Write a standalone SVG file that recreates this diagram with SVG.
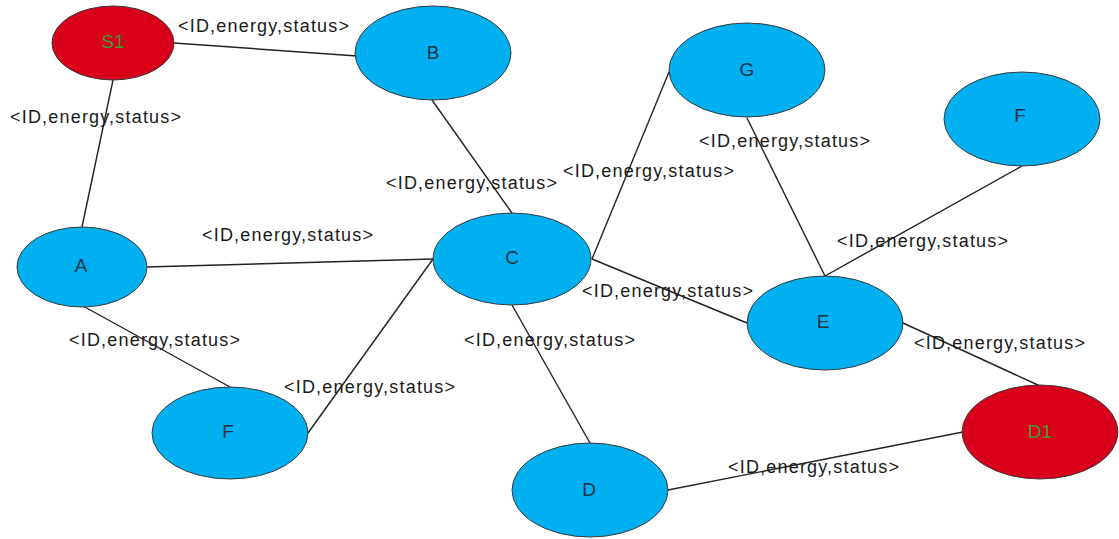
<svg xmlns="http://www.w3.org/2000/svg" width="1119" height="539" viewBox="0 0 1119 539">
  <style>
    .node { fill: #00b0f0; stroke: #3a3a3a; stroke-width: 1; }
    .end { fill: #d9001b; stroke: #3a3a3a; stroke-width: 1; }
    .edge { stroke: #222; stroke-width: 1.4; fill: none; }
    .name { font-family: "Liberation Sans", Arial, sans-serif; font-size: 19px; fill: #1f3347; text-anchor: middle; }
    .name-end { font-family: "Liberation Sans", Arial, sans-serif; font-size: 19px; fill: #3e9a34; text-anchor: middle; }
    .msg { font-family: "Liberation Sans", Arial, sans-serif; font-size: 18px; fill: #1a1a1a; }
  </style>
  <rect width="1119" height="539" fill="#ffffff"/>

  <!-- links between nodes -->
  <g id="connectors">
    <line class="edge" x1="174" y1="43" x2="357" y2="56"/>
    <line class="edge" x1="113" y1="80" x2="82" y2="227"/>
    <line class="edge" x1="432" y1="100" x2="512" y2="213"/>
    <line class="edge" x1="146" y1="267" x2="433" y2="259"/>
    <line class="edge" x1="83" y1="306" x2="230" y2="387"/>
    <line class="edge" x1="308" y1="433" x2="433" y2="259"/>
    <line class="edge" x1="592" y1="259" x2="669" y2="72"/>
    <line class="edge" x1="592" y1="259" x2="747" y2="323"/>
    <line class="edge" x1="512" y1="305" x2="590" y2="443"/>
    <line class="edge" x1="747" y1="118" x2="825" y2="276"/>
    <line class="edge" x1="1022" y1="166" x2="825" y2="276"/>
    <line class="edge" x1="903" y1="323" x2="1040" y2="386"/>
    <line class="edge" x1="668" y1="490" x2="963" y2="432"/>
  </g>

  <!-- message labels on links -->
  <g id="labels">
    <text class="msg" x="178" y="32" textLength="171">&lt;ID,energy,status&gt;</text>
    <text class="msg" x="10" y="123" textLength="171">&lt;ID,energy,status&gt;</text>
    <text class="msg" x="386" y="189" textLength="171">&lt;ID,energy,status&gt;</text>
    <text class="msg" x="202" y="241" textLength="171">&lt;ID,energy,status&gt;</text>
    <text class="msg" x="563" y="177" textLength="171">&lt;ID,energy,status&gt;</text>
    <text class="msg" x="699" y="147" textLength="171">&lt;ID,energy,status&gt;</text>
    <text class="msg" x="837" y="247" textLength="171">&lt;ID,energy,status&gt;</text>
    <text class="msg" x="582" y="297" textLength="171">&lt;ID,energy,status&gt;</text>
    <text class="msg" x="914" y="349" textLength="171">&lt;ID,energy,status&gt;</text>
    <text class="msg" x="464" y="346" textLength="171">&lt;ID,energy,status&gt;</text>
    <text class="msg" x="69" y="346" textLength="171">&lt;ID,energy,status&gt;</text>
    <text class="msg" x="284" y="393" textLength="171">&lt;ID,energy,status&gt;</text>
    <text class="msg" x="728" y="473" textLength="171">&lt;ID,energy,status&gt;</text>
  </g>

  <g id="node-S1">
    <ellipse class="end" cx="113" cy="43" rx="61" ry="37"/>
    <text class="name-end" x="113" y="48">S1</text>
  </g>
  <g id="node-B">
    <ellipse class="node" cx="433" cy="53" rx="78" ry="47"/>
    <text class="name" x="433" y="59">B</text>
  </g>
  <g id="node-G">
    <ellipse class="node" cx="747" cy="70" rx="78" ry="47"/>
    <text class="name" x="747" y="76">G</text>
  </g>
  <g id="node-F-right">
    <ellipse class="node" cx="1022" cy="119" rx="78" ry="47"/>
    <text class="name" x="1020" y="122">F</text>
  </g>
  <g id="node-A">
    <ellipse class="node" cx="82" cy="267" rx="65" ry="40"/>
    <text class="name" x="81" y="272">A</text>
  </g>
  <g id="node-C">
    <ellipse class="node" cx="512" cy="259" rx="79" ry="46"/>
    <text class="name" x="512" y="264">C</text>
  </g>
  <g id="node-E">
    <ellipse class="node" cx="825" cy="323" rx="78" ry="47"/>
    <text class="name" x="823" y="328">E</text>
  </g>
  <g id="node-F-left">
    <ellipse class="node" cx="230" cy="433" rx="78" ry="46"/>
    <text class="name" x="228" y="438">F</text>
  </g>
  <g id="node-D">
    <ellipse class="node" cx="590" cy="490" rx="78" ry="47"/>
    <text class="name" x="589" y="496">D</text>
  </g>
  <g id="node-D1">
    <ellipse class="end" cx="1040" cy="432" rx="78" ry="47"/>
    <text class="name-end" x="1040" y="438">D1</text>
  </g>
</svg>
